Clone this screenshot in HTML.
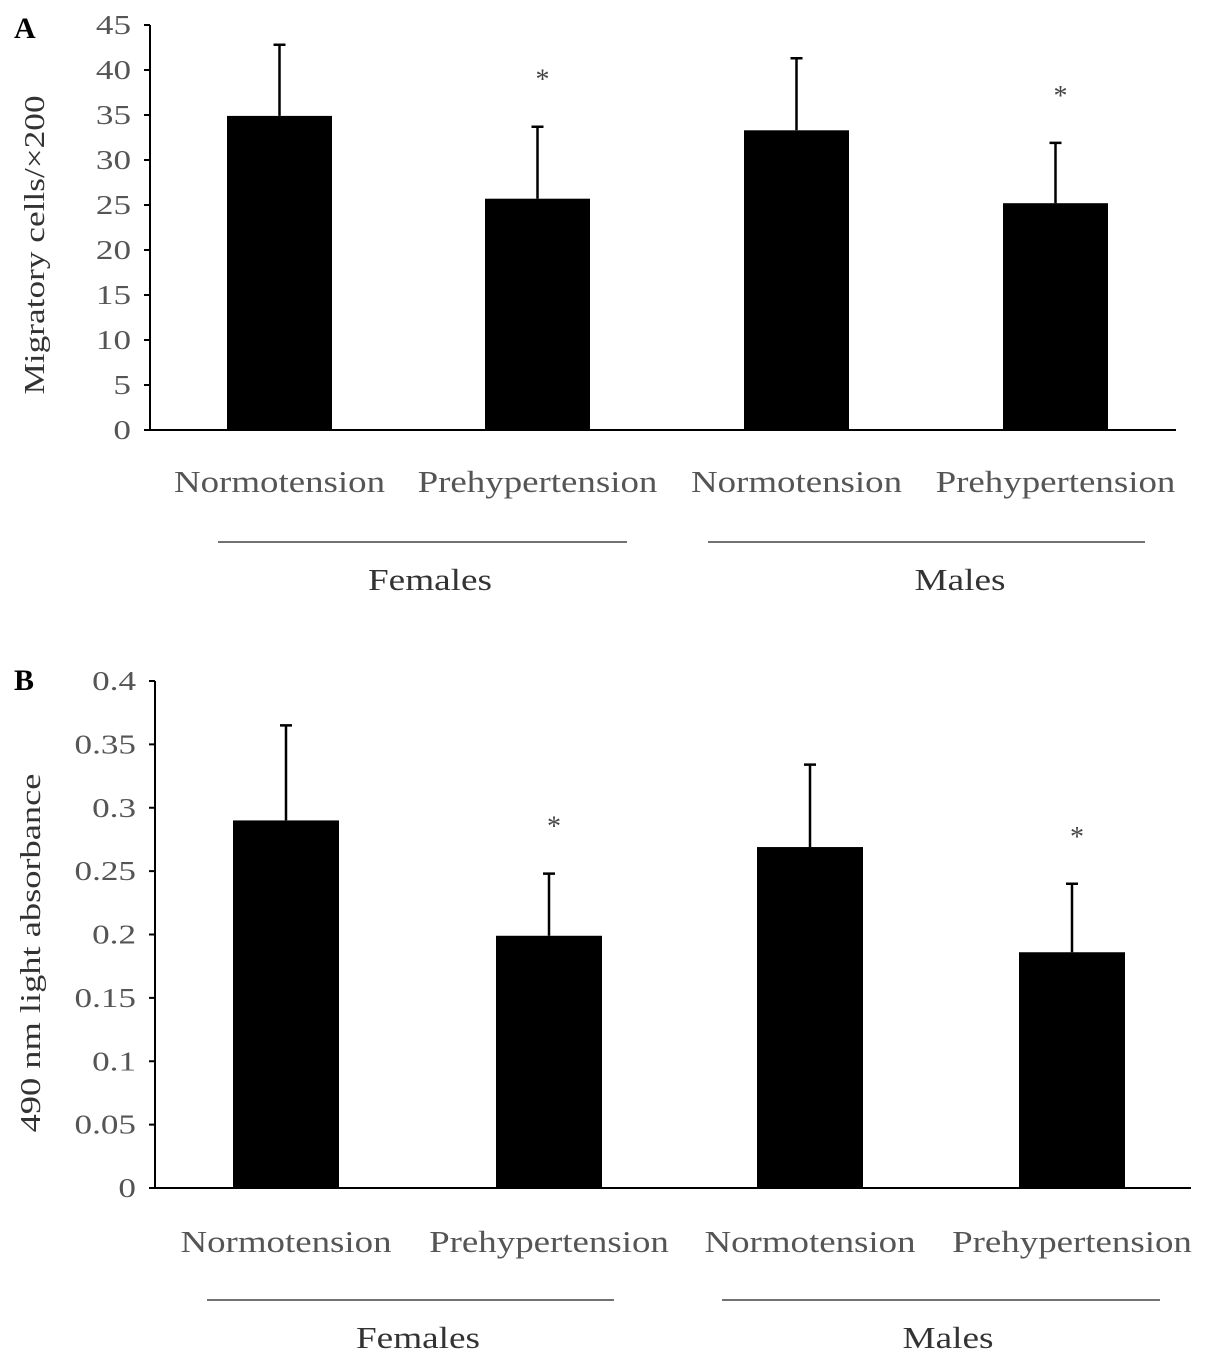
<!DOCTYPE html>
<html><head><meta charset="utf-8"><style>
body{margin:0;background:#fff}
svg{display:block;font-family:"Liberation Serif",serif}
</style></head><body>
<svg id="c" width="1205" height="1365"></svg>
<script>
const categories=["Normotension","Prehypertension","Normotension","Prehypertension"];
const groups=["Females","Males"];
const aValues=[34.9,25.7,33.3,25.2];
const aErrors=[7.9,8.0,8.0,6.7];
const aTicks=[0,5,10,15,20,25,30,35,40,45];
const bValues=[0.29,0.199,0.269,0.186];
const bErrors=[0.075,0.049,0.065,0.054];
const bTicks=["0","0.05","0.1","0.15","0.2","0.25","0.3","0.35","0.4"];
const sig=[false,true,false,true];
const NS="http://www.w3.org/2000/svg";
const svg=document.getElementById('c');
function el(t,a,txt){const e=document.createElementNS(NS,t);for(const k in a)e.setAttribute(k,a[k]);if(txt!==undefined)e.textContent=txt;svg.appendChild(e);return e;}
function stretch(e,f){const w=e.getComputedTextLength();e.setAttribute('textLength',w*f);e.setAttribute('lengthAdjust','spacingAndGlyphs');}
function panel(p){
  const y=v=>p.y0-(v/p.max)*(p.y0-p.yTop);
  let e=el('text',{x:14,y:p.letterY,'font-size':30,'font-weight':'bold',fill:'#000'},p.letter);
  
  
  e=el('line',{x1:p.ax,y1:p.yTop,x2:p.ax,y2:p.y0,stroke:'#000','stroke-width':2});
  
  
  e=el('line',{x1:p.ax,y1:p.y0,x2:p.xEnd,y2:p.y0,stroke:'#000','stroke-width':2});
  
  
  p.ticks.forEach(t=>{const v=parseFloat(t);const yy=y(v);
    let l=el('line',{x1:p.ax-6,y1:yy,x2:p.ax,y2:yy,stroke:'#000','stroke-width':2});
    
    
    let tx=el('text',{x:p.ax-19,y:yy+9,'font-size':27,fill:'#555','text-anchor':'end'},t);
    
    
    stretch(tx,1.3);
  });
  e=el('text',{x:0,y:0,'font-size':28,fill:'#333','text-anchor':'middle',transform:`translate(${p.titleX},${p.titleY}) rotate(-90)`},p.title);
  
  
  stretch(e,p.titleF);
  p.vals.forEach((v,i)=>{
    const x=p.barX[i],cx=x+p.bw/2;
    let r=el('rect',{x:x,y:y(v),width:p.bw,height:p.y0-y(v),fill:'#000'});
    
    
    const et=y(v+p.errs[i]);
    let l=el('path',{d:`M${cx},${y(v)}V${et}M${cx-6},${et}H${cx+6}`,stroke:'#000','stroke-width':2.5,fill:'none'});
    
    
    if(sig[i]){let s=el('text',{x:cx+5,y:et-38,'font-size':28,fill:'#444','text-anchor':'middle'},'*');
      
      }
    let c=el('text',{x:cx,y:p.catY,'font-size':31,fill:'#555','text-anchor':'middle'},categories[i]);
    
    
    stretch(c,1.19);
  });
  groups.forEach((g,i)=>{const [a,b]=p.lines[i];
    let l=el('line',{x1:a,y1:p.lineY,x2:b,y2:p.lineY,stroke:'#444','stroke-width':1.5});
    
    
    let t=el('text',{x:p.groupX[i],y:p.lineY+48,'font-size':31,fill:'#333','text-anchor':'middle'},g);
    
    
    stretch(t,1.2);
  });
}
panel({letter:'A',letterY:38,ax:150,yTop:25,y0:430,max:45,xEnd:1176,ticks:aTicks.map(String),
  title:'Migratory cells/×200',titleF:1.26,titleX:44,titleY:245,vals:aValues,errs:aErrors,
  barX:[227,485,744,1003],bw:105,catY:492,lineY:542,lines:[[218,627],[708,1145]],groupX:[430,960]});
panel({letter:'B',letterY:690,ax:155,yTop:681,y0:1188,max:0.4,xEnd:1191,ticks:bTicks,
  title:'490 nm light absorbance',titleF:1.3,titleX:40,titleY:953,vals:bValues,errs:bErrors,
  barX:[233,496,757,1019],bw:106,catY:1252,lineY:1300,lines:[[207,614],[722,1160]],groupX:[418,948]});
</script>
</body></html>
